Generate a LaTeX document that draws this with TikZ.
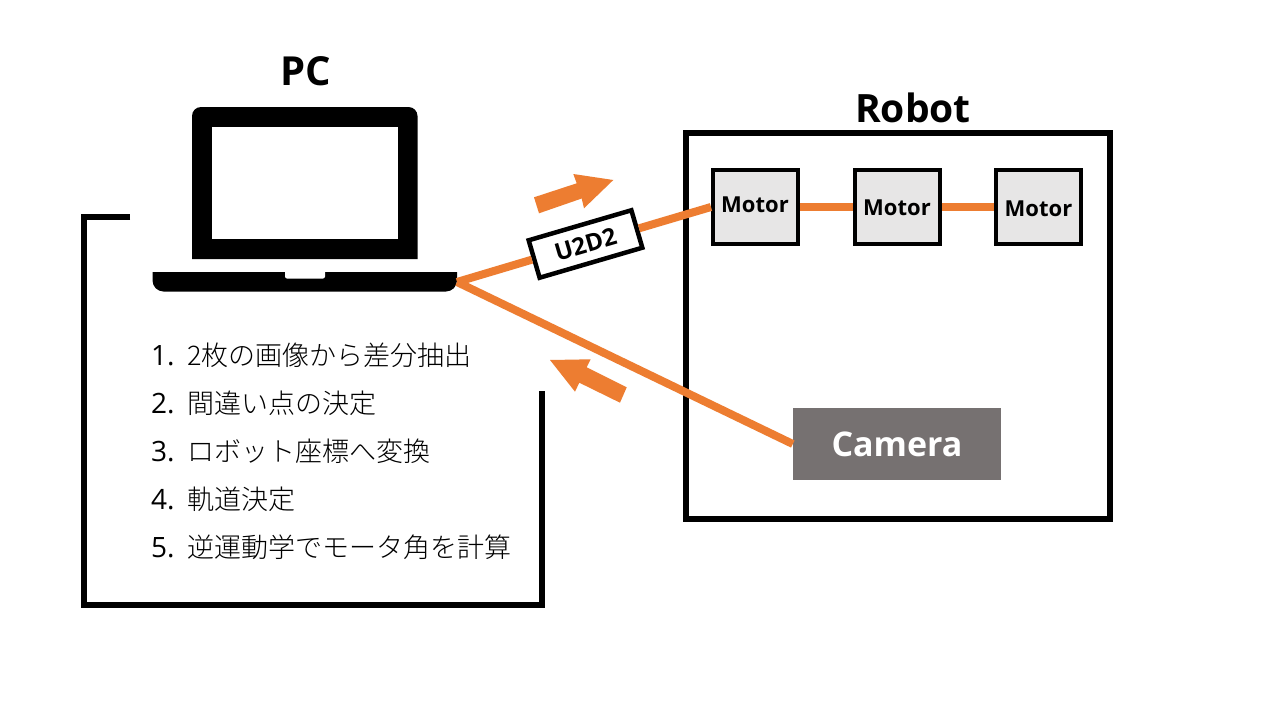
\documentclass[tikz,border=0pt]{standalone}
\usepackage{fontspec}
\setmainfont{Open Sans}
\newfontfamily\jpfont{Noto Sans CJK JP Light}
\definecolor{wireor}{HTML}{ED7D31}
\definecolor{motorgray}{HTML}{E7E6E6}
\definecolor{camgray}{HTML}{767171}
\tikzset{
  wire/.style={draw=wireor,line width=8pt},
  motorbox/.style={draw=black,line width=4pt,fill=motorgray,minimum width=85pt,minimum height=74pt,inner sep=0pt,font=\fontsize{22}{26}\selectfont\bfseries},
  motortext/.style={anchor=base,inner sep=0pt,font=\fontsize{22}{26}\selectfont\bfseries},
  steptext/.style={anchor=base west,inner sep=0pt,font=\fontsize{27}{32}\selectfont},
  heading/.style={inner sep=0pt,anchor=base,font=\fontsize{40}{46}\selectfont\bfseries},
  thick frame/.style={draw=black,line width=6pt,miter limit=10},
  bigarrow/.style={fill=wireor,draw=none}
}
\newcommand{\stepline}[2]{\makebox[36pt][l]{\fontsize{28}{32}\selectfont #1}{\jpfont #2}}
\begin{document}
\begin{tikzpicture}[x=1pt,y=-1pt]
\useasboundingbox (0,0) rectangle (1280,720);
\fill[white] (0,0) rectangle (1280,720);
% bracket behind PC
\draw[thick frame] (130,217) -- (84,217) -- (84,605) -- (542,605) -- (542,391);
% laptop
\fill[black] (192,259) [rounded corners=9pt] -- (192,107) -- (417.5,107) [sharp corners] -- (417.5,259) -- cycle;
\fill[white] (212,126.5) rectangle (398,239);
\fill[black] (152.5,272) -- (457,272) [rounded corners=11pt] -- (457,291.5) -- (152.5,291.5) [sharp corners] -- (152.5,272) -- cycle;
\fill[white] (285,270) [rounded corners=2pt] -- (285,278.5) -- (325,278.5) [sharp corners] -- (325,270) -- cycle;
\coordinate (port) at (457,282);
% robot
\node[draw=black,line width=6pt,minimum width=424pt,minimum height=386pt,inner sep=0pt] (robot) at (897.5,326) {};
\node[motorbox] (m1) at (755.5,207) {};
\node[motorbox] (m2) at (897,207) {};
\node[motorbox] (m3) at (1038.5,207) {};
\node[motortext] (t1) at (755,212) {Motor};
\node[motortext] (t2) at (897,215) {Motor};
\node[motortext] (t3) at (1038.5,216) {Motor};
\node[fill=camgray,text=white,minimum width=208pt,minimum height=72pt,inner sep=0pt,font=\fontsize{34}{40}\selectfont\bfseries] (cam) at (897,444) {Camera};
\node[draw=black,line width=4.5pt,fill=white,rotate=16.3,minimum width=107pt,minimum height=39pt,inner sep=0pt,font=\fontsize{24}{28}\selectfont\bfseries] (u2d2) at (585.5,244) {U2D2};
% connectors
\draw[wire] (port) -- (u2d2.west);
\draw[wire] (u2d2.east) -- (m1.west);
\draw[wire] (m1.east) -- (m2.west);
\draw[wire] (m2.east) -- (m3.west);
\draw[wire] (port) -- (cam.west);
% direction arrows
\fill[bigarrow] (534,197.3) -- (576.7,183.3) -- (573.3,174) -- (613.3,180) -- (584,208.3) -- (581.7,198.5) -- (539,213.3) -- cycle;
\fill[bigarrow] (626.7,387.3) -- (586.7,367.3) -- (590.7,359.3) -- (550,360) -- (575,391.7) -- (579.3,382.7) -- (620,402.7) -- cycle;
% headings
\node[heading] (pc) at (305.5,85) {PC};
\node[heading,font=\fontsize{39}{46}\selectfont\bfseries] (robotlabel) at (913,122) {Robot};
% steps
\node[steptext] (s1) at (151,365) {\stepline{1.}{2枚の画像から差分抽出}};
\node[steptext] (s2) at (151,413) {\stepline{2.}{間違い点の決定}};
\node[steptext] (s3) at (151,461) {\stepline{3.}{ロボット座標へ変換}};
\node[steptext] (s4) at (151,509) {\stepline{4.}{軌道決定}};
\node[steptext] (s5) at (151,557) {\stepline{5.}{逆運動学でモータ角を計算}};
\end{tikzpicture}
\end{document}
